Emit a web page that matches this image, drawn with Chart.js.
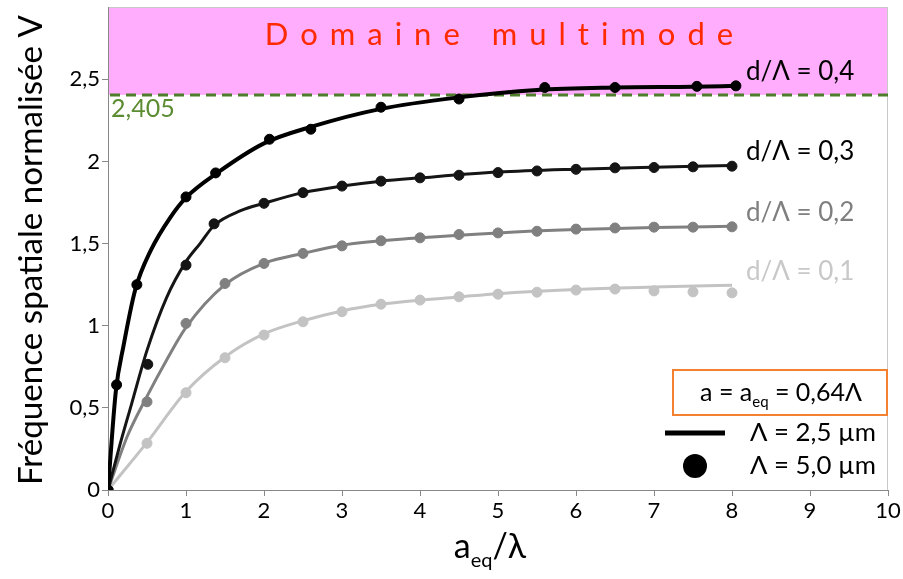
<!DOCTYPE html>
<html>
<head>
<meta charset="utf-8">
<script src="https://cdn.jsdelivr.net/npm/chart.js@4.4.1/dist/chart.umd.min.js"></script>
<style>
  html, body { margin: 0; padding: 0; background: #fff; }
</style>
</head>
<body>
<canvas id="vChart" width="903" height="579"></canvas>
<script>
// courbes continues (Λ = 2,5 µm)
const lineX04 = [0, 0.1, 0.2, 0.35, 0.55, 0.8, 1, 1.4, 2, 2.6, 3.5, 4.5, 5.5, 6.5, 7.5, 8.05];
const lineV04 = [0, 0.6, 0.88, 1.22, 1.46, 1.66, 1.78, 1.93, 2.11, 2.21, 2.32, 2.39, 2.435, 2.45, 2.455, 2.46];
const lineX03 = [0, 0.15, 0.3, 0.5, 0.75, 1, 1.18, 1.36, 1.7, 2, 2.5, 3, 3.5, 4, 5, 6, 7, 8];
const lineV03 = [0, 0.27, 0.52, 0.85, 1.17, 1.39, 1.5, 1.61, 1.7, 1.745, 1.81, 1.85, 1.88, 1.9, 1.935, 1.953, 1.965, 1.975];
const lineX02 = [0, 0.25, 0.5, 0.75, 1, 1.5, 2, 2.5, 3, 4, 5, 6, 7, 8];
const lineV02 = [0, 0.33, 0.57, 0.79, 0.99, 1.25, 1.38, 1.44, 1.49, 1.535, 1.565, 1.585, 1.598, 1.605];
const lineX01 = [0, 0.5, 1, 1.5, 2, 2.5, 3, 3.5, 4, 4.5, 5, 6, 7, 8];
const lineV01 = [0, 0.29, 0.6, 0.81, 0.95, 1.03, 1.09, 1.13, 1.155, 1.175, 1.195, 1.22, 1.235, 1.247];

// points (Λ = 5,0 µm)
const dotX04 = [0, 0.11, 0.37, 1, 1.38, 2.07, 2.6, 3.5, 4.5, 5.6, 6.5, 7.55, 8.05];
const dotV04 = [0, 0.64, 1.25, 1.784, 1.93, 2.135, 2.196, 2.33, 2.38, 2.45, 2.45, 2.457, 2.46];
const dotX03 = [0, 0.51, 1, 1.36, 2, 2.5, 3, 3.5, 4, 4.5, 5, 5.5, 6, 6.5, 7, 7.5, 8];
const dotV03 = [0, 0.765, 1.369, 1.62, 1.745, 1.81, 1.85, 1.88, 1.9, 1.916, 1.932, 1.942, 1.952, 1.961, 1.963, 1.967, 1.971];
const dotX02 = [0, 0.5, 1, 1.5, 2, 2.5, 3, 3.5, 4, 4.5, 5, 5.5, 6, 6.5, 7, 7.5, 8];
const dotV02 = [0, 0.537, 1.014, 1.257, 1.379, 1.44, 1.486, 1.517, 1.535, 1.555, 1.565, 1.575, 1.588, 1.595, 1.6, 1.6, 1.602];
const dotX01 = [0, 0.5, 1, 1.5, 2, 2.5, 3, 3.5, 4, 4.5, 5, 5.5, 6, 6.5, 7, 7.5, 8];
const dotV01 = [0, 0.284, 0.592, 0.805, 0.943, 1.024, 1.085, 1.131, 1.156, 1.176, 1.192, 1.204, 1.217, 1.223, 1.212, 1.206, 1.2];

const ratioLabels = ["d/Λ = 0,4", "d/Λ = 0,3", "d/Λ = 0,2", "d/Λ = 0,1"];
const cutoffV = 2.405;
const cutoffLabel = "2,405";
const xTitle = ["a", "eq", "/λ"];
const yTitle = "Fréquence spatiale normalisée V";
const zoneLabel = "Domaine multimode";
const boxLabel = ["a = a", "eq", " = 0,64Λ"];
const legendLine = "Λ = 2,5 µm";
const legendDot = "Λ = 5,0 µm";

const FONT = "Lato, 'Noto Sans', sans-serif";
const curveColors = ["#000000", "#151515", "#808080", "#c3c3c3"];
const labelColors = ["#000000", "#000000", "#7f7f7f", "#c8c8c8"];

function pts(xs, vs) {
  return xs.map((x, i) => ({ x: x, y: vs[i] }));
}

const lines = [pts(lineX04, lineV04), pts(lineX03, lineV03), pts(lineX02, lineV02), pts(lineX01, lineV01)];
const dots = [pts(dotX04, dotV04), pts(dotX03, dotV03), pts(dotX02, dotV02), pts(dotX01, dotV01)];

const datasets = [];
lines.forEach((data, i) => {
  datasets.push({
    data: data,
    showLine: true,
    borderColor: curveColors[i],
    borderWidth: i === 0 ? 4 : 3,
    pointRadius: 0,
    cubicInterpolationMode: "monotone",
    order: i * 2 + 1,
  });
});
dots.forEach((data, i) => {
  datasets.push({
    data: data,
    showLine: false,
    backgroundColor: curveColors[i],
    borderColor: curveColors[i],
    pointRadius: 5,
    order: i * 2,
  });
});

function fitFont(ctx, text, size, width) {
  ctx.font = `${size}px ${FONT}`;
  const w = ctx.measureText(text).width;
  return size * width / w;
}

const decorations = {
  id: "decorations",
  beforeDraw(chart) {
    const { ctx, chartArea: a, scales: { y } } = chart;
    const yCut = y.getPixelForValue(cutoffV);
    ctx.save();
    ctx.fillStyle = "#fff";
    ctx.fillRect(0, 0, chart.width, chart.height);
    ctx.fillStyle = "#ffadfc";
    ctx.fillRect(a.left, a.top, a.right - a.left, yCut - a.top);
    // cadre clair haut / droite
    ctx.strokeStyle = "#c8c8c8";
    ctx.lineWidth = 1;
    ctx.beginPath();
    ctx.moveTo(a.left, a.top + 0.5);
    ctx.lineTo(a.right - 0.5, a.top + 0.5);
    ctx.lineTo(a.right - 0.5, a.bottom);
    ctx.stroke();
    ctx.restore();
  },
  beforeDatasetsDraw(chart) {
    const { ctx, chartArea: a, scales: { y } } = chart;
    const yCut = y.getPixelForValue(cutoffV);
    ctx.save();
    ctx.strokeStyle = "#4e7d2b";
    ctx.lineWidth = 3;
    ctx.setLineDash([10, 6]);
    ctx.beginPath();
    ctx.moveTo(a.left + 2, yCut);
    ctx.lineTo(a.right, yCut);
    ctx.stroke();
    ctx.setLineDash([]);

    ctx.fillStyle = "#5b8c32";
    ctx.font = `25px ${FONT}`;
    ctx.textBaseline = "middle";
    ctx.textAlign = "left";
    ctx.fillText(cutoffLabel, a.left + 3, yCut + 14);

    // Domaine multimode
    ctx.fillStyle = "#ff2a00";
    ctx.font = `31px ${FONT}`;
    ctx.letterSpacing = "12px";
    ctx.textAlign = "left";
    const w = ctx.measureText(zoneLabel).width - 12;
    ctx.fillText(zoneLabel, 499 - w / 2, a.top + 28);
    ctx.letterSpacing = "0px";
    ctx.restore();
  },
  afterDraw(chart) {
    const { ctx, scales: { x, y } } = chart;
    ctx.save();
    ctx.textBaseline = "middle";
    ctx.textAlign = "left";

    // étiquettes d/Λ au bout des courbes
    lines.forEach((data, i) => {
      const last = data[data.length - 1];
      ctx.fillStyle = labelColors[i];
      ctx.font = `26px ${FONT}`;
      ctx.fillText(ratioLabels[i], 746, y.getPixelForValue(last.y) - 14);
    });

    // titre axe Y
    const ySize = fitFont(ctx, yTitle, 27, 470);
    ctx.font = `${ySize}px ${FONT}`;
    ctx.fillStyle = "#000";
    ctx.translate(31, 250);
    ctx.rotate(-Math.PI / 2);
    ctx.textAlign = "center";
    ctx.fillText(yTitle, 0, 0);
    ctx.setTransform(1, 0, 0, 1, 0, 0);

    // titre axe X avec indice
    ctx.textBaseline = "alphabetic";
    ctx.textAlign = "left";
    ctx.font = `34px ${FONT}`;
    const w1 = ctx.measureText(xTitle[0]).width;
    const w3 = ctx.measureText(xTitle[2]).width;
    ctx.font = `20px ${FONT}`;
    const w2 = ctx.measureText(xTitle[1]).width;
    let xs = 490 - (w1 + w2 + w3) / 2;
    const base = 558;
    ctx.font = `34px ${FONT}`;
    ctx.fillText(xTitle[0], xs, base);
    ctx.font = `20px ${FONT}`;
    ctx.fillText(xTitle[1], xs + w1, base + 9);
    ctx.font = `34px ${FONT}`;
    ctx.fillText(xTitle[2], xs + w1 + w2, base);

    // encadré a = a_eq = 0,64Λ
    ctx.strokeStyle = "#f4812f";
    ctx.lineWidth = 2;
    ctx.strokeRect(673, 370, 214, 45);
    ctx.fillStyle = "#000";
    ctx.font = `25px ${FONT}`;
    const b1 = ctx.measureText(boxLabel[0]).width;
    const b3 = ctx.measureText(boxLabel[2]).width;
    ctx.font = `15px ${FONT}`;
    const b2 = ctx.measureText(boxLabel[1]).width;
    let bx = 781 - (b1 + b2 + b3) / 2;
    ctx.font = `25px ${FONT}`;
    ctx.fillText(boxLabel[0], bx, 401);
    ctx.font = `15px ${FONT}`;
    ctx.fillText(boxLabel[1], bx + b1, 407);
    ctx.font = `25px ${FONT}`;
    ctx.fillText(boxLabel[2], bx + b1 + b2, 401);

    // légende
    ctx.lineWidth = 5;
    ctx.strokeStyle = "#000";
    ctx.beginPath();
    ctx.moveTo(665, 433);
    ctx.lineTo(725, 433);
    ctx.stroke();
    ctx.beginPath();
    ctx.arc(695, 466, 12, 0, Math.PI * 2);
    ctx.fill();
    ctx.textBaseline = "middle";
    ctx.font = `${fitFont(ctx, legendLine, 24, 126)}px ${FONT}`;
    ctx.fillText(legendLine, 750, 433);
    ctx.fillText(legendDot, 750, 466);
    ctx.restore();
  },
};

new Chart(document.getElementById("vChart"), {
  type: "scatter",
  data: { datasets: datasets },
  options: {
    responsive: false,
    animation: false,
    layout: { padding: { top: 7, right: 15, left: 0, bottom: 0 } },
    plugins: { legend: { display: false }, tooltip: { enabled: false } },
    scales: {
      x: {
        type: "linear",
        min: 0,
        max: 10,
        afterFit(s) { s.height = 89; s.paddingLeft = 0; s.paddingRight = 0; },
        ticks: { stepSize: 1, color: "#000", font: { family: FONT, size: 22 }, padding: 2 },
        grid: { display: true, drawOnChartArea: false, drawTicks: true, tickLength: 6, color: "#888" },
        border: { color: "#888", width: 1 },
      },
      y: {
        type: "linear",
        min: 0,
        max: 2.94,
        afterFit(s) { s.width = 108; s.paddingTop = 0; s.paddingBottom = 0; },
        afterBuildTicks(s) {
          s.ticks = s.ticks.filter(t => Math.abs(t.value * 2 - Math.round(t.value * 2)) < 1e-6);
        },
        ticks: {
          stepSize: 0.5,
          color: "#000",
          font: { family: FONT, size: 22 },
          padding: 2,
          callback: v => String(v).replace(".", ","),
        },
        grid: { display: true, drawOnChartArea: false, drawTicks: true, tickLength: 6, color: "#888" },
        border: { color: "#888", width: 1 },
      },
    },
  },
  plugins: [decorations],
});
</script>
</body>
</html>
